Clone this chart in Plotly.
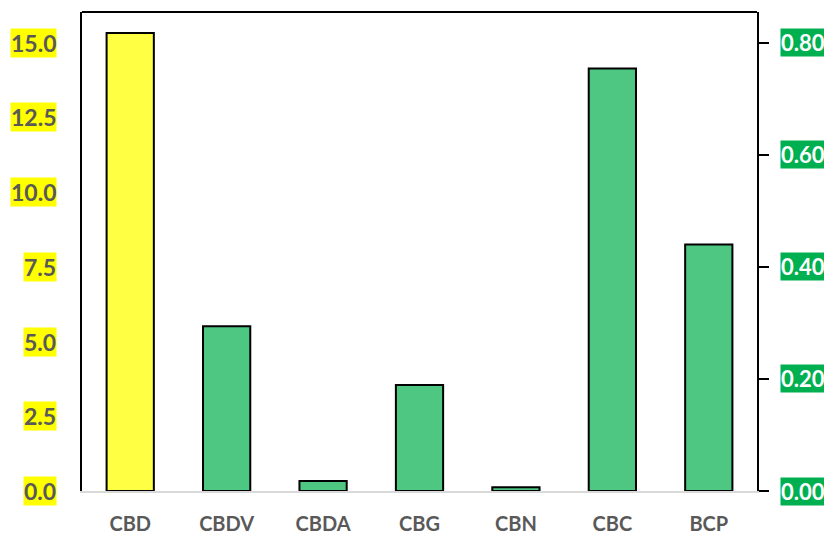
import plotly.graph_objects as go

categories = ["CBD", "CBDV", "CBDA", "CBG", "CBN", "CBC", "BCP"]
left_values = [15.33, None, None, None, None, None, None]
right_values = [None, 0.294, 0.018, 0.189, 0.0066, 0.754, 0.440]
left_ticks = [0.0, 2.5, 5.0, 7.5, 10.0, 12.5, 15.0]
right_ticks = [0.00, 0.20, 0.40, 0.60, 0.80]

GRAY = "#595959"
FONT = "Lato"

fig = go.Figure()
fig.add_trace(go.Bar(
    x=categories, y=left_values, yaxis="y", width=0.49,
    marker=dict(color="#FFFF43", line=dict(color="black", width=2)),
    showlegend=False,
))
fig.add_trace(go.Bar(
    x=categories, y=right_values, yaxis="y2", width=0.49,
    marker=dict(color="#4EC783", line=dict(color="black", width=2)),
    showlegend=False,
))

annotations = []
for v in left_ticks:
    annotations.append(dict(
        x=0, xref="paper", y=v, yref="y", text=f"{v:.1f}",
        xanchor="right", yanchor="middle", xshift=-25, showarrow=False,
        bgcolor="#FFFF00", borderpad=0,
        font=dict(family=FONT, size=23, color=GRAY, weight="bold"),
    ))
for v in right_ticks:
    annotations.append(dict(
        x=1, xref="paper", y=v, yref="y2", text=f"{v:.2f}",
        xanchor="left", yanchor="middle", xshift=23, showarrow=False,
        bgcolor="#00B050", borderpad=0,
        font=dict(family=FONT, size=22, color="white", weight="bold"),
    ))

fig.update_layout(
    width=824, height=526,
    margin=dict(l=74, r=75, t=4, b=43),
    paper_bgcolor="white", plot_bgcolor="white",
    barmode="overlay",
    annotations=annotations,
    xaxis=dict(
        showline=True, linecolor="#D9D9D9", linewidth=2,
        showgrid=False, ticks="", automargin=False,
        tickfont=dict(family=FONT, size=20, color=GRAY, weight="bold"),
        ticklabelstandoff=14,
    ),
    yaxis=dict(
        range=[0, 16.03], showgrid=False, zeroline=False,
        showline=True, linecolor="black", linewidth=2,
        showticklabels=False, ticks="", automargin=False,
    ),
    yaxis2=dict(
        range=[0, 0.855], overlaying="y", side="right",
        showgrid=False, zeroline=False,
        showline=True, linecolor="black", linewidth=2,
        ticks="outside", ticklen=10, tickwidth=1.5, tickcolor="black",
        tickvals=right_ticks, showticklabels=False, automargin=False,
    ),
    shapes=[dict(type="line", xref="paper", yref="paper", x0=0, x1=1, y0=1, y1=1,
                 line=dict(color="black", width=2))],
)

fig.write_html("out.html")
